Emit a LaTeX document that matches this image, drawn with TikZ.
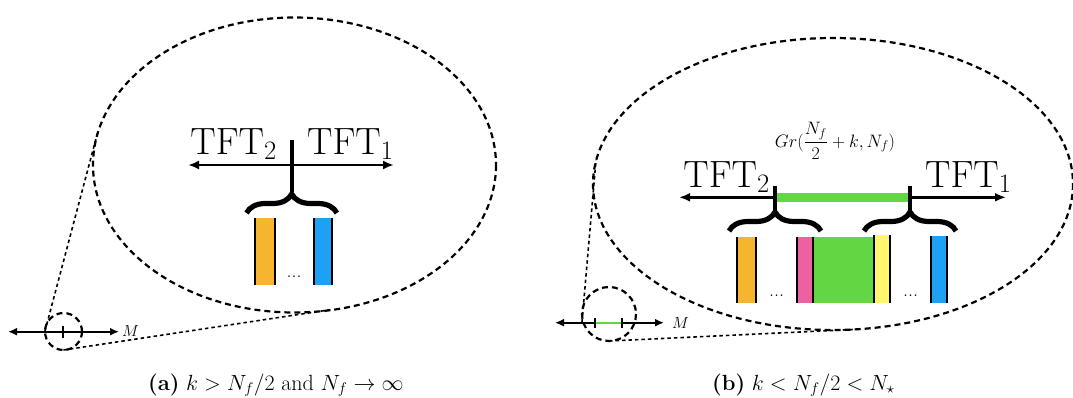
\RequirePackage{fix-cm}
\documentclass[tikz,border=0pt]{standalone}
\usetikzlibrary{arrows.meta,decorations.pathreplacing}
\definecolor{barorange}{RGB}{245,181,46}
\definecolor{barblue}{RGB}{30,161,245}
\definecolor{bargreen}{RGB}{99,214,67}
\definecolor{barpink}{RGB}{235,97,162}
\definecolor{baryellow}{RGB}{255,246,110}
\begin{document}
\begin{tikzpicture}[x=1pt,y=-1pt,
  bigdash/.style={line width=2.2pt, dash pattern=on 6pt off 4pt},
  tangent/.style={line width=1.6pt, dash pattern=on 3.5pt off 3pt},
  mainarrow/.style={line width=2.6pt, {Latex[length=11pt,width=9pt]}-{Latex[length=11pt,width=9pt]}},
  axisarrow/.style={line width=2pt, {Latex[length=9pt,width=8pt]}-{Latex[length=9pt,width=8pt]}},
  ticker/.style={line width=3.8pt},
  smalltick/.style={line width=2.4pt},
  bracer/.style={line width=5.2pt, decorate, decoration={brace, amplitude=19pt}},
  edge/.style={line width=1.8pt},
  tft/.style={font=\fontsize{38}{44}\selectfont, inner sep=0pt},
  caption/.style={font=\fontsize{22}{26}\selectfont, inner sep=0pt, anchor=base west},
  mlabel/.style={font=\fontsize{16}{19}\selectfont, inner sep=0pt, anchor=west},
  dotslabel/.style={font=\fontsize{20}{24}\selectfont, inner sep=0pt, anchor=base}]
\useasboundingbox (0,0) rectangle (1073,397);

% ---------------- panel (a) ----------------
\draw[bigdash] (294.5,165) ellipse [x radius=201.5, y radius=147.5];
\draw[bigdash] (63.5,331.5) circle [radius=18.5];
\coordinate (aTanA) at (45,331);
\coordinate (aTanB) at (97.5,133);
\coordinate (aTanC) at (63.5,350);
\coordinate (aTanD) at (331,309.6);
\draw[tangent] (aTanA) -- (aTanB);
\draw[tangent] (aTanC) -- (aTanD);
\coordinate (aAxL) at (8,331.7);
\coordinate (aAxR) at (119,331.7);
\draw[axisarrow] (aAxL) -- (aAxR);
\coordinate (aTickT) at (63,326);
\coordinate (aTickB) at (63,337.5);
\draw[smalltick] (aTickT) -- (aTickB);
\node[mlabel] (aM) at (122,331) {$M$};

\coordinate (aArL) at (188,165);
\coordinate (aArR) at (394,165);
\draw[mainarrow] (aArL) -- (aArR);
\coordinate (aTkT) at (291.7,140);
\coordinate (aTkB) at (291.7,192);
\draw[ticker] (aTkT) -- (aTkB);
\node[tft, anchor=base east] (aTFT2) at (277,154) {$\mathrm{TFT}_2$};
\node[tft, anchor=base west] (aTFT1) at (307,154) {$\mathrm{TFT}_1$};
\coordinate (aBrL) at (246.5,213);
\coordinate (aBrR) at (336.9,213);
\draw[bracer] (aBrL) -- (aBrR);
\fill[barorange] (255,218.3) rectangle (275,285);
\draw[edge] (255,218.3) -- (255,285) (275,218.3) -- (275,285);
\fill[barblue] (314.3,218.3) rectangle (332.3,285);
\draw[edge] (314.3,218.3) -- (314.3,285) (332.3,218.3) -- (332.3,285);
\node[dotslabel] (aDots) at (294,277) {...};
\node[caption] (capA) at (148,390) {\textbf{(a)} $k>N_f/2$ and $N_f\to\infty$};

% ---------------- panel (b) ----------------
\draw[bigdash] (833,184) ellipse [x radius=240, y radius=146];
\draw[bigdash] (609,314) circle [radius=27];
\coordinate (bTanA) at (582,322);
\coordinate (bTanB) at (596,160);
\coordinate (bTanC) at (609,341);
\coordinate (bTanD) at (857,329.3);
\draw[tangent] (bTanA) -- (bTanB);
\draw[tangent] (bTanC) -- (bTanD);
\coordinate (bAxL) at (555,322.7);
\coordinate (bAxR) at (664,322.7);
\draw[axisarrow] (bAxL) -- (bAxR);
\coordinate (bG1) at (595,322.7);
\coordinate (bG2) at (621.7,322.7);
\draw[line width=2.4pt, bargreen] (bG1) -- (bG2);
\draw[smalltick] (595,317.5) -- (595,328);
\draw[smalltick] (621.7,317.5) -- (621.7,328);
\node[mlabel] (bM) at (672,323) {$M$};

\node[font=\fontsize{18}{22}\selectfont, inner sep=0pt, anchor=base] (bGr) at (835,147) {$Gr({\displaystyle\frac{N_f}{2}}+k,N_f)$};
\coordinate (bArL) at (679,197.3);
\coordinate (bArR) at (1006,197.3);
\draw[mainarrow] (bArL) -- (bArR);
\coordinate (bGrL) at (775,197.3);
\coordinate (bGrR) at (910,197.3);
\draw[line width=8.5pt, bargreen] (bGrL) -- (bGrR);
\draw[ticker] (775,186) -- (775,210);
\draw[ticker] (910,186) -- (910,210);
\node[tft, anchor=base east] (bTFT2) at (770,187) {$\mathrm{TFT}_2$};
\node[tft, anchor=base west] (bTFT1) at (925,187) {$\mathrm{TFT}_1$};
\coordinate (bBr1L) at (729,231);
\coordinate (bBr1R) at (821,231);
\draw[bracer] (bBr1L) -- (bBr1R);
\coordinate (bBr2L) at (864,231);
\coordinate (bBr2R) at (956,231);
\draw[bracer] (bBr2L) -- (bBr2R);

\fill[barorange] (737.3,236.7) rectangle (756,302.7);
\draw[edge] (737.3,236.7) -- (737.3,302.7) (756,236.7) -- (756,302.7);
\fill[barpink] (796.7,236.7) rectangle (812.7,302.7);
\fill[bargreen] (812.7,237.3) rectangle (874,302.7);
\fill[baryellow] (874,235) rectangle (890,302.7);
\draw[edge] (796.7,236.7) -- (796.7,302.7) (812.7,236.7) -- (812.7,302.7)
            (874,235) -- (874,302.7) (890,235) -- (890,302.7);
\fill[barblue] (930.7,236) rectangle (946.7,302.7);
\draw[edge] (930.7,236) -- (930.7,302.7) (946.7,236) -- (946.7,302.7);
\node[dotslabel] (bDots1) at (776.5,296) {...};
\node[dotslabel] (bDots2) at (910.5,296) {...};
\node[caption] (capB) at (712,390) {\textbf{(b)} $k<N_f/2<N_\star$};
\end{tikzpicture}
\end{document}
